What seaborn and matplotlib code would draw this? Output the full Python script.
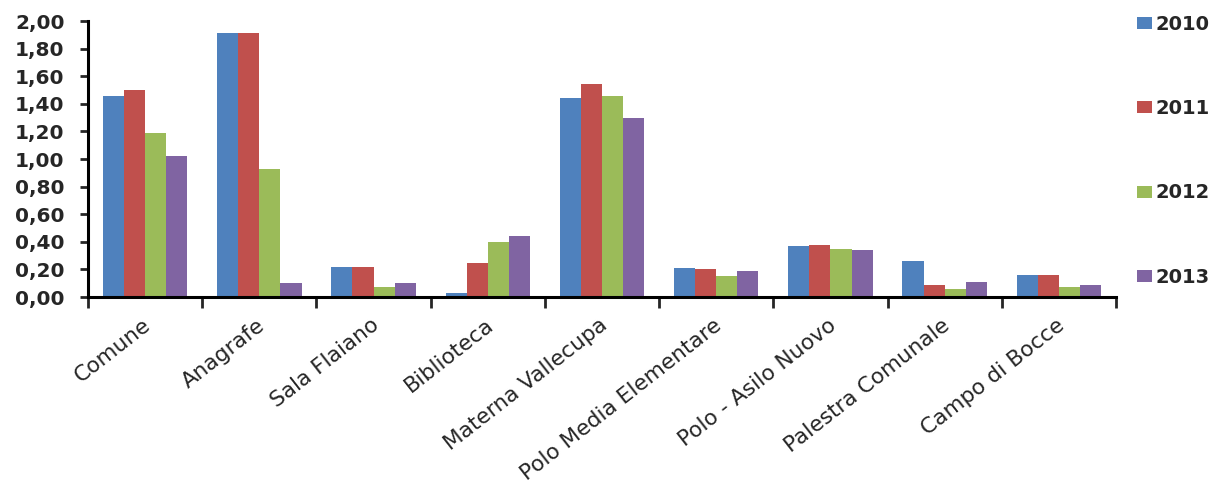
import matplotlib
matplotlib.use("Agg")
import matplotlib.pyplot as plt
import matplotlib.transforms as mtransforms
import seaborn as sns
import pandas as pd
import numpy as np
from matplotlib.ticker import FuncFormatter, FixedLocator

categories = ["Comune", "Anagrafe", "Sala Flaiano", "Biblioteca", "Materna Vallecupa",
              "Polo Media Elementare", "Polo - Asilo Nuovo", "Palestra Comunale", "Campo di Bocce"]
years = ["2010", "2011", "2012", "2013"]
v2010 = [1.46, 1.91, 0.22, 0.03, 1.44, 0.21, 0.37, 0.26, 0.16]
v2011 = [1.50, 1.91, 0.22, 0.25, 1.54, 0.20, 0.38, 0.09, 0.16]
v2012 = [1.19, 0.93, 0.07, 0.40, 1.46, 0.15, 0.35, 0.06, 0.07]
v2013 = [1.02, 0.10, 0.10, 0.44, 1.30, 0.19, 0.34, 0.11, 0.09]
colors = ["#4F81BD", "#C0504D", "#9BBB59", "#8064A2"]

rows = []
for y, vals in zip(years, [v2010, v2011, v2012, v2013]):
    for c, v in zip(categories, vals):
        rows.append({"cat": c, "year": y, "val": v})
df = pd.DataFrame(rows)

sns.set_style("white")
plt.rcParams['font.family'] = ['DejaVu Sans']

fig = plt.figure(figsize=(12.16, 4.84), dpi=100)
ax = fig.add_axes([88 / 1216, 1 - 297 / 484, (1116 - 88) / 1216, 276 / 484])
sns.barplot(data=df, x="cat", y="val", hue="year", order=categories, hue_order=years,
            palette=colors, width=0.74, gap=0, saturation=1, ax=ax, linewidth=0, legend=True)

ax.set_ylim(0, 2.0)
ax.set_xlim(-0.5, len(categories) - 0.5)
ax.set_yticks(np.arange(0, 2.01, 0.2))
ax.yaxis.set_major_formatter(FuncFormatter(lambda v, p: f"{v:.2f}".replace(".", ",")))
ax.set_xlabel("")
ax.set_ylabel("")
for s in ["top", "right"]:
    ax.spines[s].set_visible(False)
for s in ["left", "bottom"]:
    ax.spines[s].set_linewidth(2.2)
    ax.spines[s].set_color("black")

ax.tick_params(axis="y", which="major", direction="out", length=6, width=2, labelsize=14.5, pad=11, left=True)
for t in ax.get_yticklabels():
    t.set_fontweight("bold")

ax.xaxis.set_minor_locator(FixedLocator(np.arange(-0.5, len(categories), 1.0)))
ax.tick_params(axis="x", which="minor", direction="out", length=8, width=2, bottom=True)
ax.tick_params(axis="x", which="major", length=0, labelsize=15.6, pad=13)
ax.set_xticks(range(len(categories)))
ax.set_xticklabels(categories, rotation=38, ha="right", va="top", rotation_mode="anchor")
offset = mtransforms.ScaledTranslation(-3 / 100, 0, fig.dpi_scale_trans)
for t in ax.get_xticklabels():
    t.set_transform(t.get_transform() + offset)

handles, labels = ax.get_legend_handles_labels()
ax.legend_.remove()
leg = fig.legend(handles, labels, loc="upper left", bbox_to_anchor=(1129 / 1216, 1 - 7 / 484),
                 frameon=False, prop={"size": 14, "weight": "bold"},
                 handlelength=0.77, handleheight=0.57, handletextpad=0.2,
                 labelspacing=3.36, borderaxespad=0)

fig.savefig("out.png", dpi=100)
